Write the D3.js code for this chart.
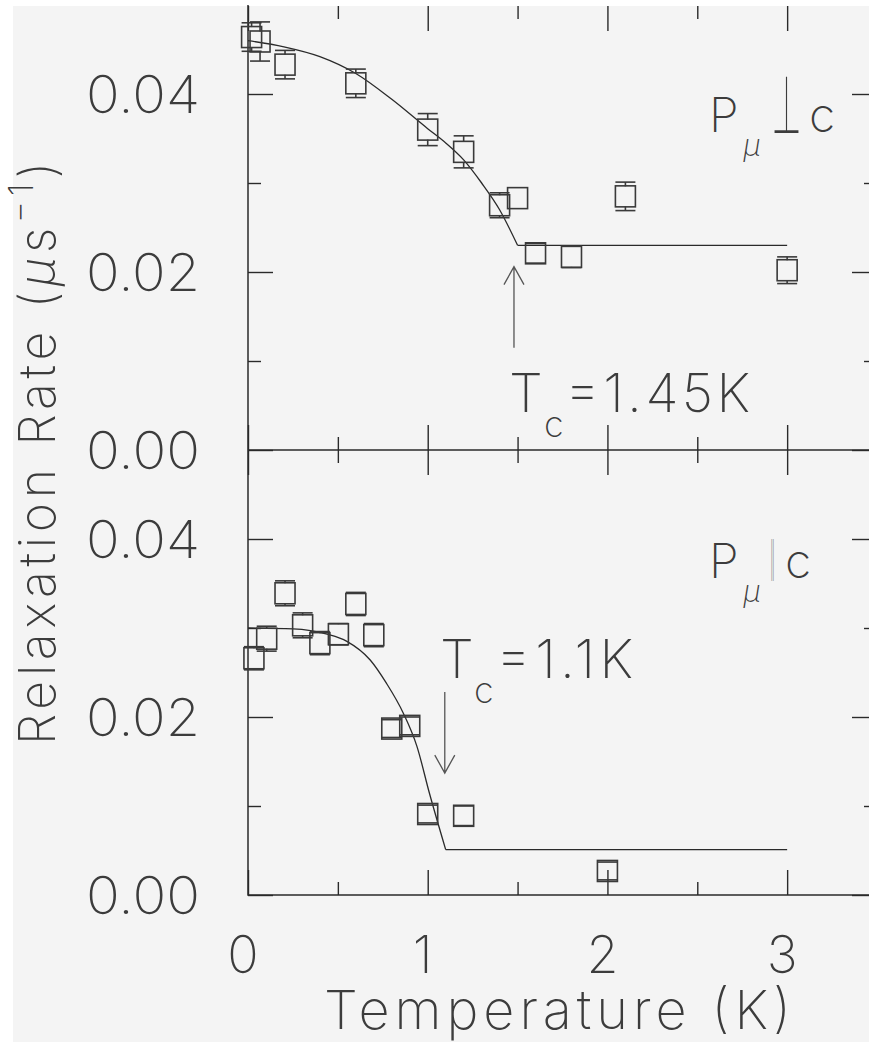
<!DOCTYPE html>
<meta charset="utf-8">
<style>
  body { margin: 0; background: #fff; }
  svg text { font-family: Inter, Lato, "Open Sans", sans-serif; font-weight: 150; fill: #3c3c3c; }
  svg text.sym { font-family: "Noto Sans CJK JP", "DejaVu Sans", sans-serif; font-weight: 100; }
</style>
<body>
<svg width="869" height="1042"></svg>
<script src="https://d3js.org/d3.v7.min.js"></script>
<script>

// P_mu perpendicular to c (upper panel)
var perpT   = [0.02, 0.067, 0.206, 0.60, 1.00, 1.20, 1.40, 1.50, 1.60, 1.80, 2.10, 3.00];
var perpV   = [0.0464, 0.0459, 0.0433, 0.0412, 0.0360, 0.0335, 0.0275, 0.0283, 0.0221, 0.0217, 0.0285, 0.0202];
var perpErr = [0.0016, 0.0022, 0.0016, 0.0016, 0.0018, 0.0018, 0.0014, 0, 0.0011, 0.0012, 0.0016, 0.0015];

var perpFitT = [0, 0.2, 0.4, 0.6, 0.8, 1.0, 1.1, 1.2, 1.3, 1.4, 1.5];
var perpFitV = [0.0460, 0.0453, 0.0442, 0.0423, 0.0394, 0.0361, 0.0345, 0.0326, 0.0300, 0.0270, 0.0230];
var perpFlatEnd = 3.0;

// P_mu parallel to c (lower panel)
var paraT   = [0.033, 0.104, 0.206, 0.304, 0.40, 0.503, 0.60, 0.70, 0.80, 0.90, 1.00, 1.20, 2.00];
var paraV   = [0.0266, 0.0288, 0.0339, 0.0303, 0.0283, 0.0293, 0.0327, 0.0292, 0.0187, 0.0190, 0.0091, 0.0089, 0.0027];
var paraErr = [0.0013, 0.0014, 0.0014, 0.0014, 0.0013, 0.0012, 0.0013, 0.0013, 0.0010, 0.0010, 0.0010, 0.0011, 0.0010];

var paraFitT = [0, 0.25, 0.44, 0.55, 0.68, 0.77, 0.865, 0.94, 1.01, 1.1];
var paraFitV = [0.0300, 0.0299, 0.0293, 0.0285, 0.0264, 0.0238, 0.0204, 0.0167, 0.0114, 0.0051];
var paraFlatEnd = 3.0;

// Tc arrows: [T, from, to]
var perpArrow = [1.48, 0.0115, 0.0206];
var paraArrow = [1.095, 0.0228, 0.0137];

var xMajor = [0, 1, 2, 3];
var xMinor = [0.5, 1.5, 2.5];
var yMajor = [0, 0.02, 0.04];
var yMinor = [0.01, 0.03];
var yLabels = ["0.00", "0.02", "0.04"];

var svg = d3.select("svg"),
    width = +svg.attr("width"),
    height = +svg.attr("height");

svg.append("rect")
    .attr("x", 13).attr("y", 6)
    .attr("width", width - 13).attr("height", height - 6)
    .attr("fill", "#f4f4f4");

var x = d3.scaleLinear().domain([0, 3.5]).range([248, 877]);
var yTop = d3.scaleLinear().domain([0, 0.05]).range([450, 5]);
var yBot = d3.scaleLinear().domain([0, 0.05]).range([895, 450]);

var ink = "#2a2a2a";

function ticks(axis, values, size, tx, ty) {
  svg.append("g")
      .attr("transform", "translate(" + tx + "," + ty + ")")
      .call(axis.tickValues(values).tickSize(-size).tickFormat(""))
      .call(g => g.select(".domain").remove())
      .call(g => g.selectAll("line").attr("stroke", ink).attr("stroke-width", 1.4));
}

[[yTop, 450, 6], [yBot, 895, 450]].forEach(function(p) {
  var y = p[0];
  ticks(d3.axisBottom(x), xMajor, 25, 0, p[1]);
  ticks(d3.axisBottom(x), xMinor, 13, 0, p[1]);
  ticks(d3.axisTop(x), xMajor, 25, 0, p[2]);
  ticks(d3.axisTop(x), xMinor, 13, 0, p[2]);
  ticks(d3.axisLeft(y), yMajor, 25, x(0), 0);
  ticks(d3.axisLeft(y), yMinor, 13, x(0), 0);
  ticks(d3.axisRight(y), yMajor, 25, x(3.5), 0);
  ticks(d3.axisRight(y), yMinor, 13, x(3.5), 0);
});

// frame lines
svg.append("path")
    .attr("d", "M" + x(0) + "," + yTop(0.05) + "V" + yBot(0) + "H" + x(3.5) + "V" + yTop(0.05)
             + "M" + x(0) + "," + yTop(0) + "H" + x(3.5))
    .attr("fill", "none").attr("stroke", ink).attr("stroke-width", 1.5);

function panel(y, T, V, E, fitT, fitV, flatEnd, arrow) {
  var g = svg.append("g");
  var half = 10;
  var pts = T.map((t, i) => ({t: t, v: V[i], e: E[i]}));

  var line = d3.line().x(d => x(d[0])).y(d => y(d[1])).curve(d3.curveMonotoneX);
  var fit = fitT.map((t, i) => [t, fitV[i]]);
  g.append("path").attr("d", line(fit))
      .attr("fill", "none").attr("stroke", ink).attr("stroke-width", 1.3);
  var last = fit[fit.length - 1];
  g.append("path").attr("d", d3.line().x(d => x(d[0])).y(d => y(d[1]))([last, [flatEnd, last[1]]]))
      .attr("fill", "none").attr("stroke", ink).attr("stroke-width", 1.3);

  pts.forEach(function(d) {
    var cx = x(d.t), cy = y(d.v);
    if (d.e > 0) {
      var top = y(d.v + d.e), bot = y(d.v - d.e);
      if (cy - top > half) g.append("line").attr("x1", cx).attr("x2", cx).attr("y1", cy - half).attr("y2", top);
      if (bot - cy > half) g.append("line").attr("x1", cx).attr("x2", cx).attr("y1", cy + half).attr("y2", bot);
      g.append("line").attr("x1", cx - half).attr("x2", cx + half).attr("y1", top).attr("y2", top);
      g.append("line").attr("x1", cx - half).attr("x2", cx + half).attr("y1", bot).attr("y2", bot);
    }
    g.append("rect").attr("x", cx - half).attr("y", cy - half - 0.5)
        .attr("width", 2 * half).attr("height", 2 * half + 1)
        .attr("fill", "none");
  });
  g.selectAll("line, rect").attr("stroke", "#3a3a3a").attr("stroke-width", 1.6);

  // Tc arrow
  var ax = x(arrow[0]), y0 = y(arrow[1]), y1 = y(arrow[2]);
  var dir = y1 < y0 ? 1 : -1;
  svg.append("path")
      .attr("d", "M" + ax + "," + y0 + "V" + y1 + "M" + (ax - 10) + "," + (y1 + dir * 18) + "L" + ax + "," + y1 + "L" + (ax + 10) + "," + (y1 + dir * 18))
      .attr("fill", "none").attr("stroke", "#555").attr("stroke-width", 1.3);

  // y tick labels
  yMajor.forEach(function(v, i) {
    if (y === yBot || v > 0)
      svg.append("text").attr("x", 200).attr("y", y(v) + 19)
          .attr("text-anchor", "end").attr("font-size", 52)
          .attr("textLength", 114).attr("lengthAdjust", "spacingAndGlyphs")
          .text(yLabels[i]);
  });
}

panel(yTop, perpT, perpV, perpErr, perpFitT, perpFitV, perpFlatEnd, perpArrow);
panel(yBot, paraT, paraV, paraErr, paraFitT, paraFitV, paraFlatEnd, paraArrow);

// the shared 0.00 of the upper panel
svg.append("text").attr("x", 200).attr("y", yTop(0) + 19)
    .attr("text-anchor", "end").attr("font-size", 52)
    .attr("textLength", 114).attr("lengthAdjust", "spacingAndGlyphs")
    .text("0.00");

// x tick labels
xMajor.forEach(function(t) {
  svg.append("text").attr("x", x(t) - 5).attr("y", 973)
      .attr("text-anchor", "middle").attr("font-size", 52)
      .text(t);
});

svg.append("text").attr("x", 324).attr("y", 1029)
    .attr("font-size", 54).attr("textLength", 467).attr("lengthAdjust", "spacing")
    .text("Temperature (K)");

var yt = svg.append("text")
    .attr("transform", "translate(55,745) rotate(-90)")
    .attr("font-size", 50).attr("textLength", 583).attr("lengthAdjust", "spacing");
yt.append("tspan").text("Relaxation Rate (");
yt.append("tspan").attr("font-style", "italic").text("μ");
yt.append("tspan").text("s");
yt.append("tspan").attr("font-size", 34).attr("dy", -22).text("−1");
yt.append("tspan").attr("dy", 22).text(")");

// Tc annotations
function tcLabel(xT, xc, xRest, base, rest, restLen) {
  svg.append("text").attr("x", xT).attr("y", base).attr("font-size", 54).text("T");
  svg.append("text").attr("x", xc).attr("y", base + 25).attr("font-size", 36).text("c");
  svg.append("text").attr("x", xRest).attr("y", base).attr("font-size", 54)
      .attr("textLength", restLen).attr("lengthAdjust", "spacing").text(rest);
}
tcLabel(509, 544, 565, 411.7, "=1.45K", 185);
tcLabel(440, 474, 496, 678.3, "=1.1K", 137);

// polarisation labels
function pLabel(base, sym, symX, symW, symSize, symDy, cX) {
  svg.append("text").attr("x", 709).attr("y", base).attr("font-size", 48).text("P");
  svg.append("text").attr("x", 743).attr("y", base + 24).attr("font-size", 30)
      .attr("font-style", "italic").attr("font-weight", 400).attr("fill", "#222").text("μ");
  svg.append("text").attr("class", "sym").attr("x", symX).attr("y", base + symDy).attr("font-size", symSize)
      .attr("textLength", symW).attr("lengthAdjust", "spacingAndGlyphs").text(sym);
  svg.append("text").attr("x", cX).attr("y", base).attr("font-size", 48).text("c");
}
pLabel(131.7, "⊥", 771, 31, 80, 4, 809);
pLabel(578, "‖", 767, 11, 42, -2, 785);

</script>
